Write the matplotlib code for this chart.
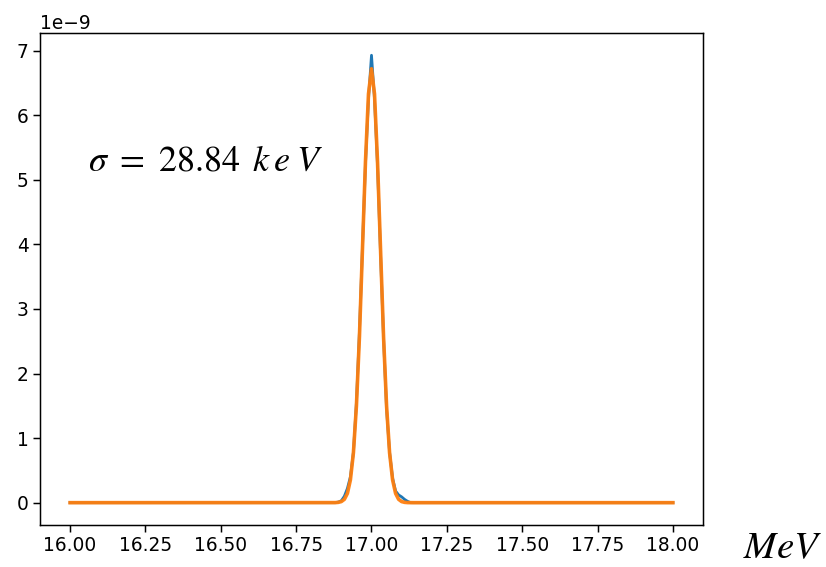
import numpy as np
import matplotlib
matplotlib.use("Agg")
import matplotlib.pyplot as plt

# ---- data (values in units of 1e-9) ----
x_start, x_stop, x_step = 16.00, 18.00, 0.01
peak_x = [16.88, 16.89, 16.90, 16.91, 16.92, 16.93, 16.94, 16.95, 16.96, 16.97,
          16.98, 16.99, 17.00, 17.01, 17.02, 17.03, 17.04, 17.05, 17.06, 17.07,
          17.08, 17.09, 17.10, 17.11, 17.12, 17.13]
measured = [0.00, 0.01, 0.03, 0.10, 0.22, 0.40, 0.78, 1.55, 2.65, 3.95,
            5.25, 6.25, 6.93, 6.25, 5.22, 3.85, 2.55, 1.45, 0.78, 0.38,
            0.18, 0.12, 0.09, 0.05, 0.02, 0.00]
fit = [0.001, 0.005, 0.017, 0.052, 0.143, 0.353, 0.772, 1.50, 2.57, 3.91,
       5.28, 6.33, 6.72, 6.33, 5.28, 3.91, 2.57, 1.50, 0.772, 0.353,
       0.143, 0.052, 0.017, 0.005, 0.001, 0.000]
label_text = r"$\sigma\ =\ 28.84\ \,k\,e\;V$"
unit_text = r"$MeV$"
scale = 1e-9

# ---- build full series on the grid ----
x = np.round(np.arange(x_start, x_stop + x_step / 2, x_step), 2)
blue = np.zeros_like(x)
orange = np.zeros_like(x)
for px, m, f in zip(peak_x, measured, fit):
    i = int(np.argmin(np.abs(x - px)))
    blue[i] = m
    orange[i] = f

plt.rcParams["mathtext.fontset"] = "stix"
s = 1.34
fig = plt.figure(figsize=(8.26, 5.67), dpi=100)
ax = fig.add_axes([0.0484, 0.074, 0.8027, 0.868])
ax.plot(x, blue * scale, color="#1f77b4", lw=2.0)
ax.plot(x, orange * scale, color="#ff7f0e", lw=2.6, alpha=0.95)

ax.set_xticks(np.arange(16.0, 18.01, 0.25))
ax.tick_params(labelsize=10 * s, length=3.5 * s, width=0.8 * s)
ax.yaxis.get_offset_text().set_fontsize(10 * s)
for sp in ax.spines.values():
    sp.set_linewidth(0.8 * s)

ax.text(16.06, 5.30e-9, label_text, fontsize=26, va="center", ha="left")
fig.text(0.948, 0.035, unit_text, fontsize=28, ha="center", va="center")

fig.savefig("out.png", dpi=100)
